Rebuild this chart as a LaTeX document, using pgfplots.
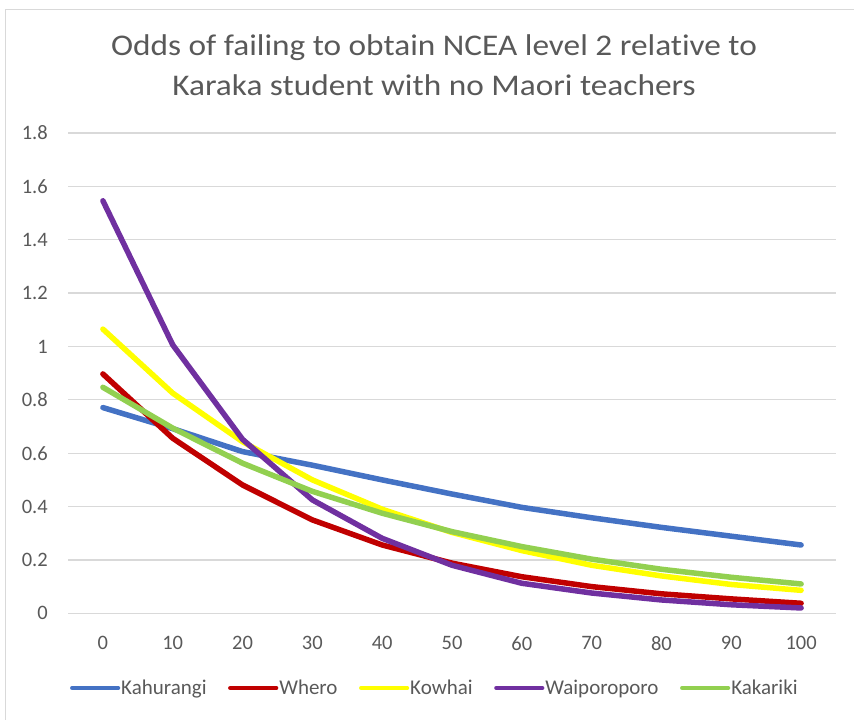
\documentclass[border=0pt]{standalone}
\usepackage{pgfplots}
\pgfplotsset{compat=1.18}
\usepackage{fontspec}
\setmainfont{Carlito}[Ligatures=NoCommon]

\definecolor{txtgray}{HTML}{595959}
\definecolor{gridgray}{HTML}{D9D9D9}
\definecolor{kblue}{HTML}{4472C4}
\definecolor{kred}{HTML}{C00000}
\definecolor{kyellow}{HTML}{FFFF00}
\definecolor{kpurple}{HTML}{7030A0}
\definecolor{kgreen}{HTML}{92D050}

\begin{document}
\begin{tikzpicture}
\path[use as bounding box] (0pt,0pt) rectangle (854pt,720pt);
\draw[gridgray, line width=1pt] (5pt,0pt) -- (5pt,710pt) -- (854pt,710pt);

% title
\node[anchor=base, text=txtgray, font=\fontsize{30}{36}\selectfont] at (434pt,664pt)
  {\scalebox{1.11}[1]{Odds of failing to obtain NCEA level 2 relative to}};
\node[anchor=base, text=txtgray, font=\fontsize{30}{36}\selectfont] at (434pt,624.5pt)
  {\scalebox{1.11}[1]{Karaka student with no Maori teachers}};

\begin{axis}[
  at={(68pt,106.7pt)}, anchor=south west,
  scale only axis,
  width=768pt, height=480.3pt,
  xmin=-5, xmax=105,
  ymin=0, ymax=1.8,
  xtick={0,10,...,100},
  xticklabels={0,10,20,30,40,50,60,70,80,90,100},
  ytick={0,0.2,0.4,0.6,0.8,1,1.2,1.4,1.6,1.8},
  yticklabels={0,0.2,0.4,0.6,0.8,1,1.2,1.4,1.6,1.8},
  axis line style={draw=none},
  major tick length=0pt,
  ymajorgrids,
  grid style={gridgray, line width=1.3pt},
  tick label style={text=txtgray, font=\fontsize{20.5}{24}\selectfont},
  yticklabel style={anchor=east, inner sep=0pt, xshift=-20pt},
  xticklabel style={anchor=north, inner sep=0pt, yshift=-23pt},
  every axis plot/.append style={line width=5.5pt, line join=round, line cap=round, mark=none},
  legend columns=5,
  legend style={draw=none, fill=none, at={(0.477,-0.1555)}, anchor=center,
    font=\fontsize{21}{24}\selectfont, text=txtgray,
    nodes={inner sep=1pt},
    /tikz/every even column/.append style={column sep=20.5pt}},
  legend image code/.code={\draw[#1, line width=4.2pt, line cap=round] (0pt,0pt) -- (46pt,0pt);},
]
\addplot[kblue] coordinates {
  (0,0.771) (10,0.692) (20,0.606) (30,0.555) (40,0.500) (50,0.447)
  (60,0.397) (70,0.358) (80,0.322) (90,0.289) (100,0.256)};
\addlegendentry{Kahurangi}
\addplot[kred] coordinates {
  (0,0.897) (10,0.656) (20,0.481) (30,0.350) (40,0.256) (50,0.188)
  (60,0.137) (70,0.100) (80,0.073) (90,0.054) (100,0.0375)};
\addlegendentry{Whero}
\addplot[kyellow] coordinates {
  (0,1.065) (10,0.825) (20,0.643) (30,0.500) (40,0.390) (50,0.303)
  (60,0.235) (70,0.180) (80,0.140) (90,0.108) (100,0.086)};
\addlegendentry{Kowhai}
\addplot[kpurple] coordinates {
  (0,1.546) (10,1.006) (20,0.652) (30,0.425) (40,0.281) (50,0.180)
  (60,0.1125) (70,0.076) (80,0.050) (90,0.032) (100,0.020)};
\addlegendentry{Waiporoporo}
\addplot[kgreen] coordinates {
  (0,0.847) (10,0.694) (20,0.5625) (30,0.457) (40,0.375) (50,0.306)
  (60,0.250) (70,0.203) (80,0.165) (90,0.135) (100,0.110)};
\addlegendentry{Kakariki}
\end{axis}
\end{tikzpicture}
\end{document}
